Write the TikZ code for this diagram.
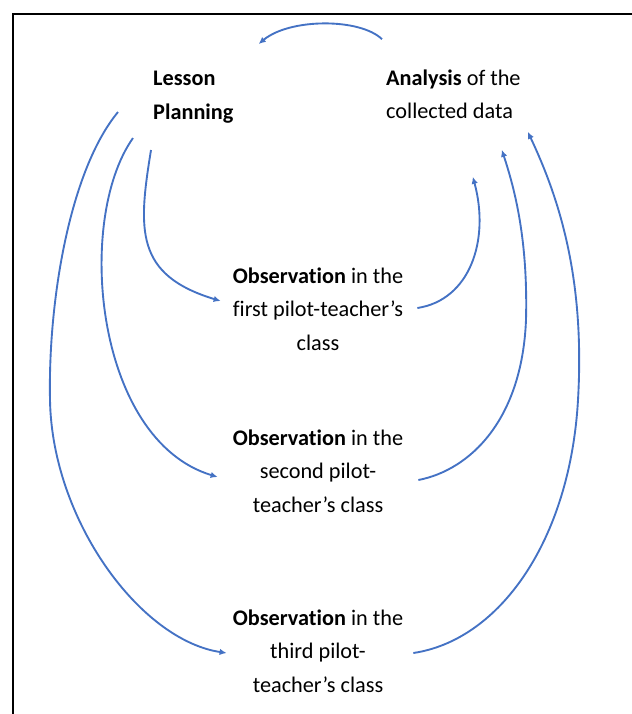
\documentclass[tikz,border=0pt]{standalone}
\usepackage{fontspec}
\setmainfont{Carlito}[RawFeature={-liga}]
\usetikzlibrary{arrows.meta}
\definecolor{linkblue}{RGB}{68,114,196}

\begin{document}
\begin{tikzpicture}[x=0.03cm,y=-0.03cm,font=\fontsize{19}{28.5}\selectfont,
	stage/.style={align=center,inner sep=0pt},
	head/.style={align=left,inner sep=0pt,anchor=west},
	flow/.style={draw=linkblue,line width=1.6pt,-{Latex[length=6pt,width=5.5pt]}}]
		\useasboundingbox (0,0) rectangle (632,714);
		\draw[line width=1.6pt] (13,714) -- (13,14) -- (632,14);
		%%%
		\node[head] (plan) at (153,97) {\textbf{Lesson}\\\textbf{Planning}};
		\node[head] (ana) at (386,94) {\textbf{Analysis} of the\\collected data};
		\node[stage] (obsA) at (318,309) {\textbf{Observation} in the\\first pilot-teacher’s\\class};
		\node[stage] (obsB) at (318,471) {\textbf{Observation} in the\\second pilot-\\teacher’s class};
		\node[stage] (obsC) at (318,651) {\textbf{Observation} in the\\third pilot-\\teacher’s class};
		%%%
		\draw[flow] ([shift={(-4,-30)}]ana.north west) .. controls (360,18) and (290,18) .. ([shift={(25,-27)}]plan.north east);
		\draw[flow] ([shift={(-2,27)}]plan.south west) .. controls (138,230) and (135,275) .. ([shift={(-12,-8)}]obsA.west);
		\draw[flow] ([shift={(-20,15)}]plan.south west) .. controls (75,220) and (95,440) .. ([shift={(-15,6)}]obsB.west);
		\draw[flow] ([shift={(-35,-11)}]plan.south west) .. controls (70,170) and (48,300) .. (50,400) .. controls (52,520) and (140,640) .. ([shift={(-6,2)}]obsC.west);
		\draw[flow] ([shift={(14,-1)}]obsA.east) .. controls (470,300) and (490,240) .. ([shift={(-48,58)}]ana.south east);
		\draw[flow] ([shift={(15,9)}]obsB.east) .. controls (470,470) and (522,420) .. (526,320) .. controls (528,240) and (515,190) .. ([shift={(-19,31)}]ana.south east);
		\draw[flow] ([shift={(10,2)}]obsC.east) .. controls (500,640) and (570,540) .. (578,400) .. controls (585,280) and (560,200) .. ([shift={(7,13)}]ana.south east);
	\end{tikzpicture}
\end{document}
